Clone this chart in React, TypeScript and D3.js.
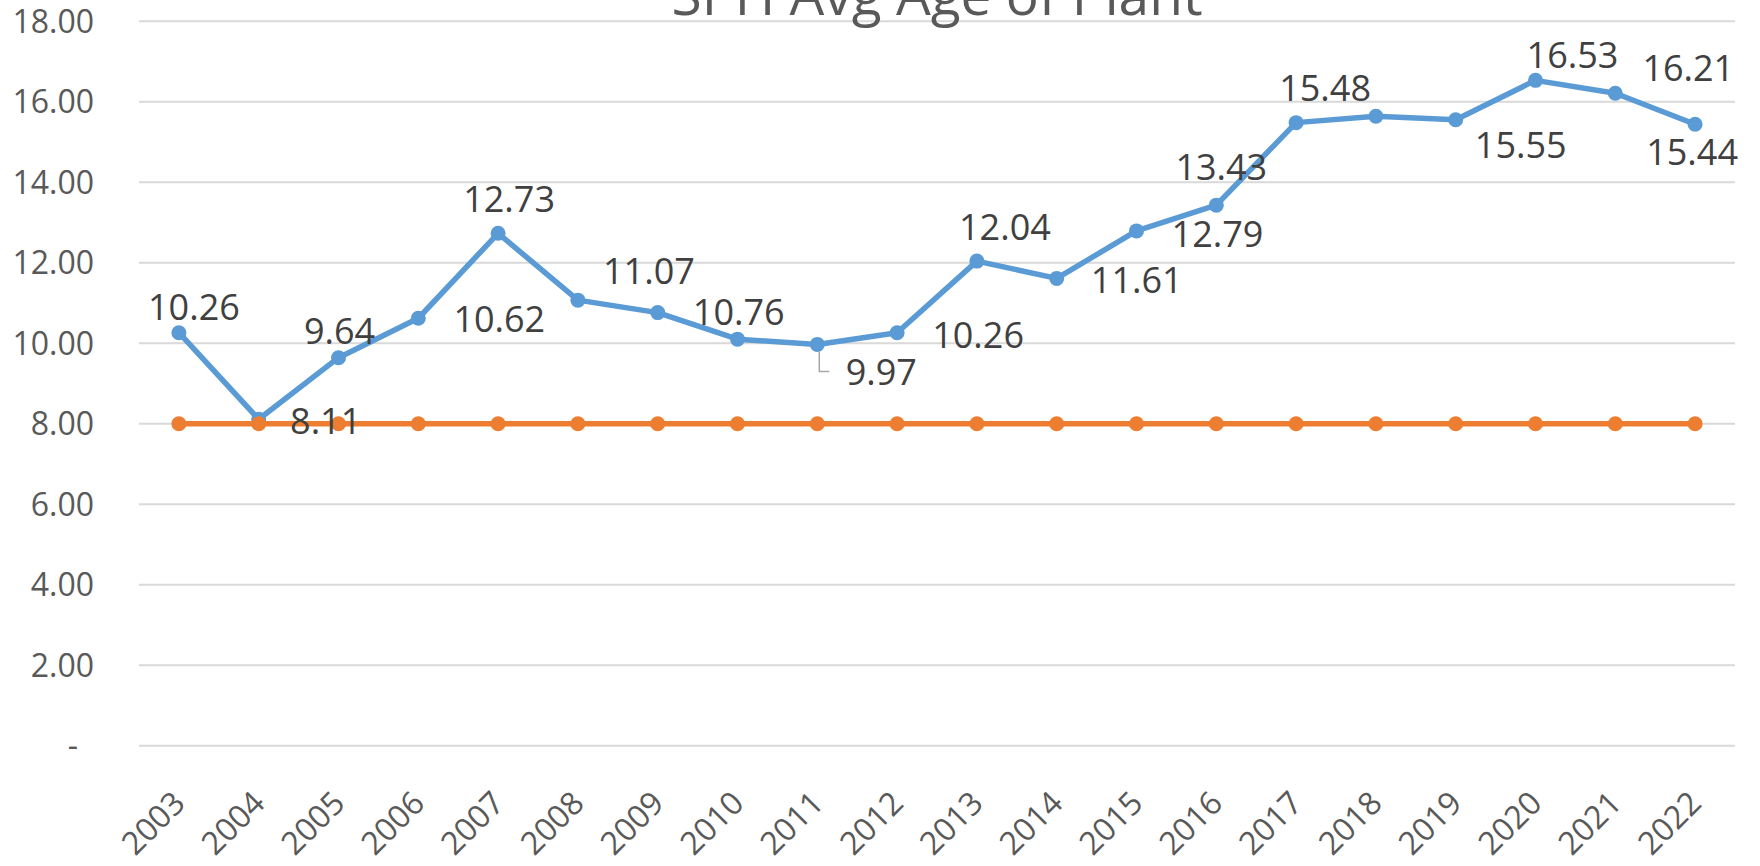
import React, { useEffect } from 'react';
import * as d3 from 'd3';

const years = ['2003', '2004', '2005', '2006', '2007', '2008', '2009', '2010', '2011', '2012', '2013', '2014', '2015', '2016', '2017', '2018', '2019', '2020', '2021', '2022'];
const avgAge = [10.26, 8.11, 9.64, 10.62, 12.73, 11.07, 10.76, 10.10, 9.97, 10.26, 12.04, 11.61, 12.79, 13.43, 15.48, 15.64, 15.55, 16.53, 16.21, 15.44];
const target = [8.0, 8.0, 8.0, 8.0, 8.0, 8.0, 8.0, 8.0, 8.0, 8.0, 8.0, 8.0, 8.0, 8.0, 8.0, 8.0, 8.0, 8.0, 8.0, 8.0];
const yTicks = [0, 2, 4, 6, 8, 10, 12, 14, 16, 18];
const title = 'SPH Avg Age of Plant';

// label placement (offset of label centre from its point); null = no label
const labelOffsets: ([number, number] | null)[] = [
  [15, -26], [67, 2], [1, -27], [81, 1], [11, -34], [71, -29], [81, 0], null, [64, 28], [81, 2],
  [28, -34], [80, 2], [81, 3], [5, -38], [29, -34], null, [65, 25], [37, -25], [73, -25], [-3, 28],
];
const leaderIndex = 8;

const W = 1760;
const H = 866;
const FONT = '"Open Sans", "Liberation Sans", sans-serif';

export default function App() {
  useEffect(() => {
    document.body.style.margin = '0';
  }, []);

  const x = d3.scaleBand<string>().domain(years).range([139, 1735]);
  const bw = x.bandwidth();
  const cx = (yr: string) => (x(yr) as number) + bw / 2;
  const y = d3.scaleLinear().domain([0, 18]).range([745.7, 21.2]);
  const fmt = d3.format('.2f');

  const line = d3
    .line<number>()
    .x((_, i) => cx(years[i]))
    .y((d) => y(d));

  const dataFs = 36;
  const tickFs = 32;
  const xTickFs = 32;

  return (
    <svg width={W} height={H} style={{ display: 'block', position: 'absolute', left: 0, top: 0, background: '#fff' }}>
      <rect x={0} y={0} width={W} height={H} fill="#ffffff" />
      {/* gridlines */}
      {yTicks.map((t) => (
        <line key={'g' + t} x1={139} x2={1735} y1={y(t)} y2={y(t)} stroke="#d9d9d9" strokeWidth={2} />
      ))}
      {/* y tick labels */}
      {yTicks.map((t) => (
        <text
          key={'yt' + t}
          x={t === 0 ? 78 : 94}
          y={y(t) + 0.357 * tickFs}
          textAnchor="end"
          fontFamily={FONT}
          fontSize={tickFs}
          fill="#595959"
        >
          {t === 0 ? '-' : fmt(t)}
        </text>
      ))}
      {/* x tick labels */}
      {years.map((yr) => (
        <text
          key={'xt' + yr}
          transform={`translate(${cx(yr)},797) rotate(-45)`}
          y={0.357 * xTickFs}
          textAnchor="end"
          fontFamily={FONT}
          fontSize={xTickFs}
          fill="#595959"
        >
          {yr}
        </text>
      ))}
      {/* title */}
      <text x={937} y={15} textAnchor="middle" fontFamily={FONT} fontSize={55} fill="#595959">
        {title}
      </text>
      {/* blue series */}
      <path d={line(avgAge) || ''} fill="none" stroke="#5b9bd5" strokeWidth={5.5} strokeLinejoin="round" />
      {avgAge.map((v, i) => (
        <circle key={'b' + i} cx={cx(years[i])} cy={y(v)} r={7.5} fill="#5b9bd5" />
      ))}
      {/* orange series */}
      <path d={line(target) || ''} fill="none" stroke="#ed7d31" strokeWidth={5.5} strokeLinejoin="round" />
      {target.map((v, i) => (
        <circle key={'o' + i} cx={cx(years[i])} cy={y(v)} r={7.5} fill="#ed7d31" />
      ))}
      {/* leader line */}
      {(() => {
        const px = cx(years[leaderIndex]);
        const py = y(avgAge[leaderIndex]);
        return (
          <polyline
            points={`${px + 2},${py + 7} ${px + 2},${py + 27} ${px + 12},${py + 27}`}
            fill="none"
            stroke="#a6a6a6"
            strokeWidth={1.5}
          />
        );
      })()}
      {/* data labels */}
      {avgAge.map((v, i) => {
        const off = labelOffsets[i];
        if (!off) return null;
        return (
          <text
            key={'l' + i}
            x={cx(years[i]) + off[0]}
            y={y(v) + off[1] + 0.357 * dataFs}
            textAnchor="middle"
            fontFamily={FONT}
            fontSize={dataFs}
            fill="#404040"
          >
            {fmt(v)}
          </text>
        );
      })}
    </svg>
  );
}
